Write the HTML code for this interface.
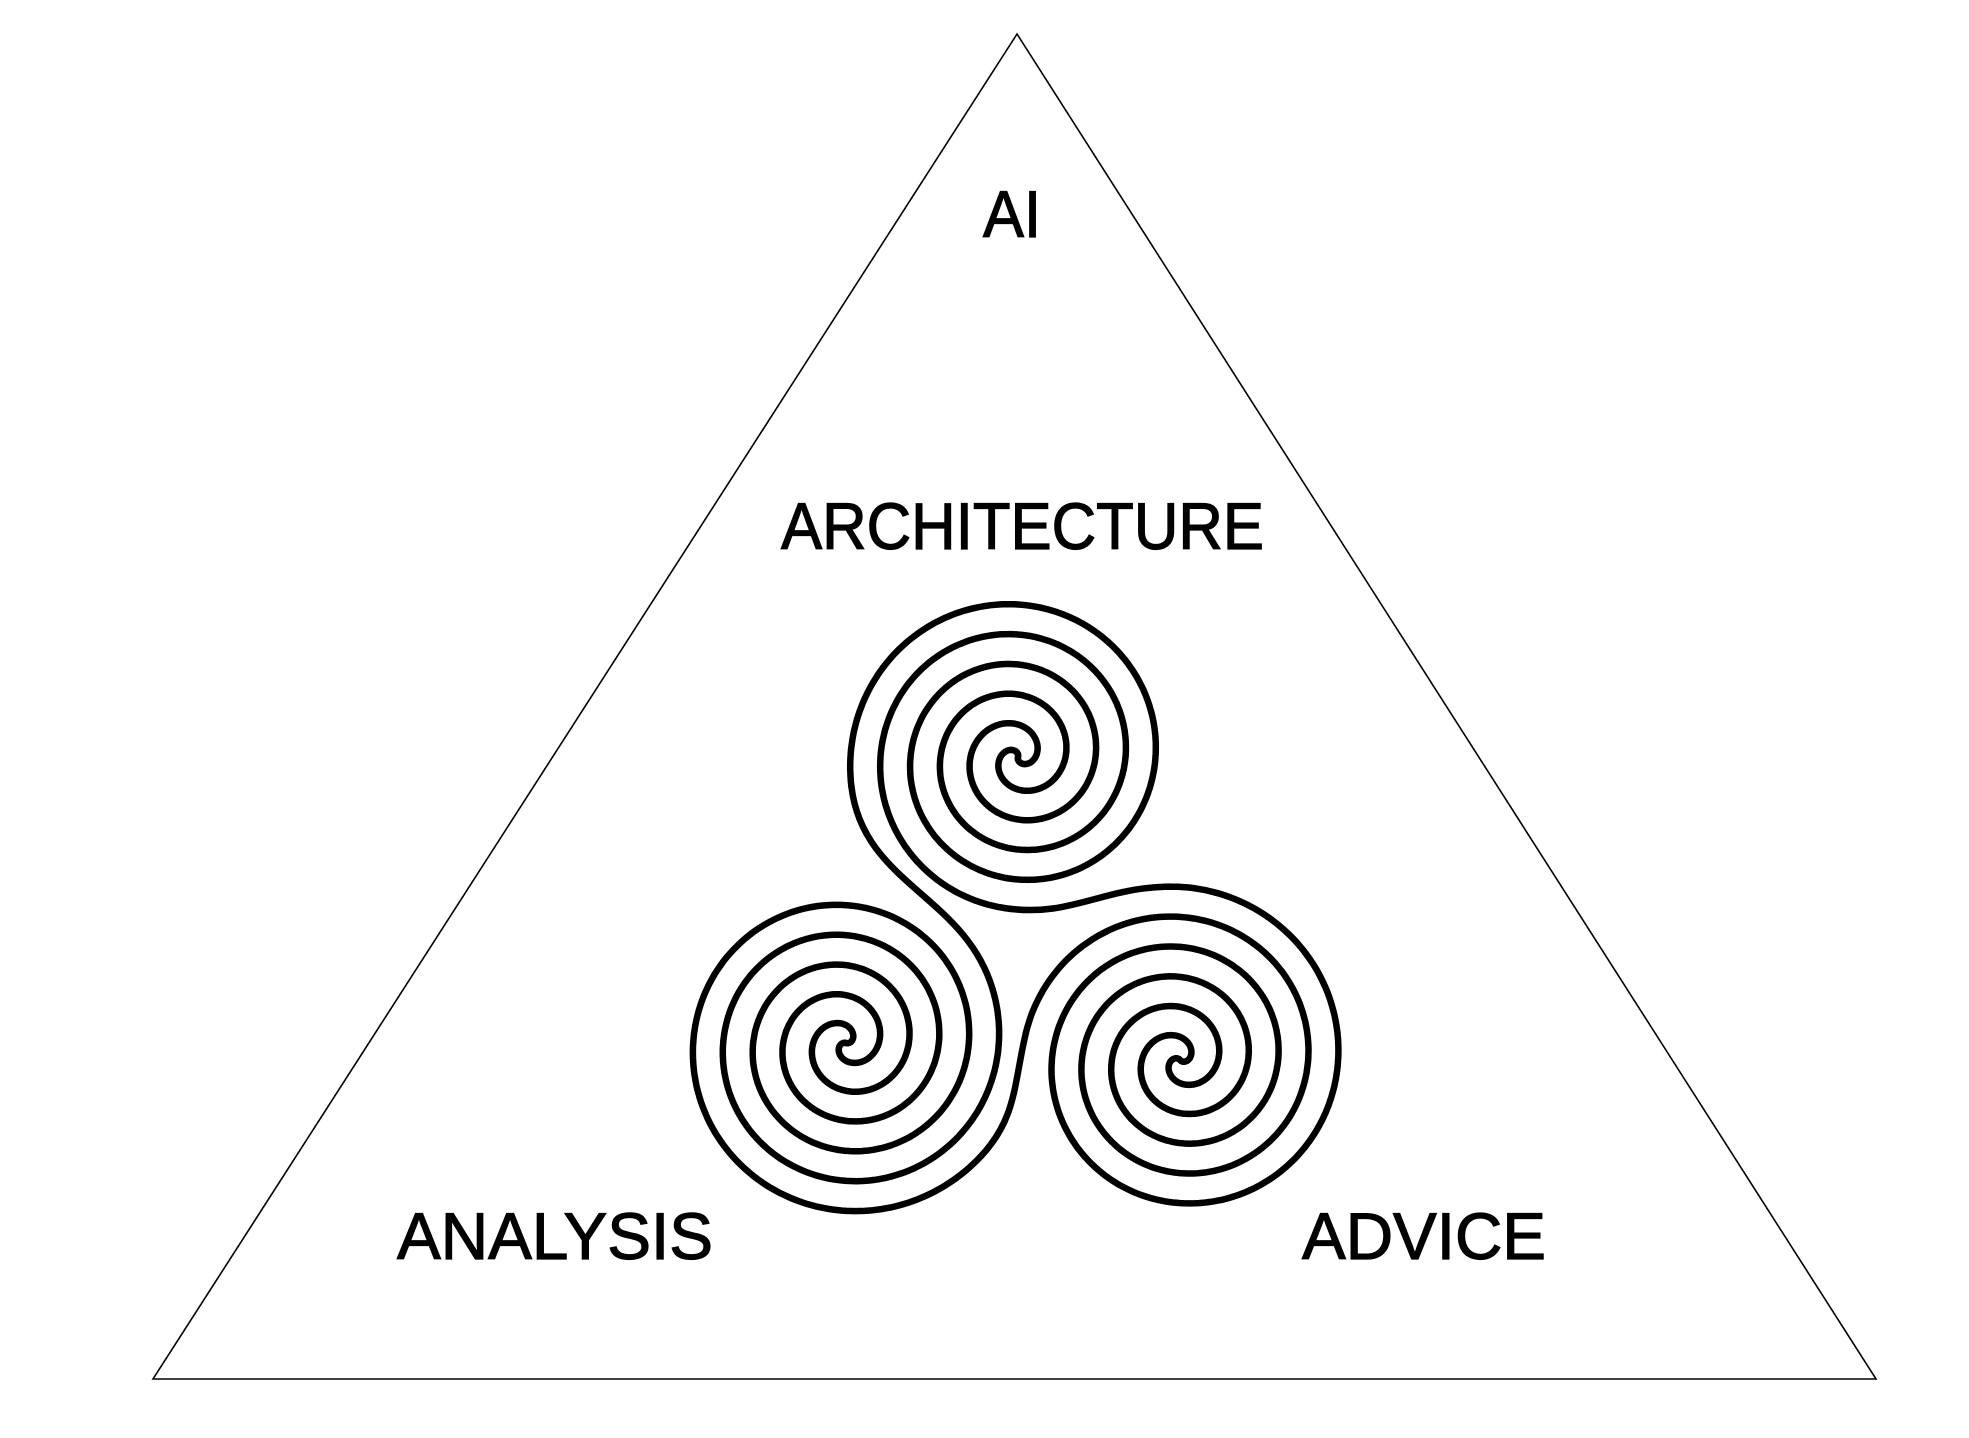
<!DOCTYPE html>
<html><head><meta charset="utf-8"><style>html,body{margin:0;padding:0;background:#fff;}svg{display:block}</style></head>
<body>
<svg id="s" width="1969" height="1438" viewBox="0 0 1969 1438" xmlns="http://www.w3.org/2000/svg">
<rect width="1969" height="1438" fill="#fff"/>
<polygon points="1017,34 153,1379 1876,1379" fill="none" stroke="#000" stroke-width="1.6"/>
<g font-family="'Liberation Sans', sans-serif" font-size="66" fill="#000" stroke="#000" stroke-width="1.2">
<text x="983" y="237" textLength="58" lengthAdjust="spacingAndGlyphs">AI</text>
<text x="781" y="549" textLength="483" lengthAdjust="spacingAndGlyphs">ARCHITECTURE</text>
<text x="397" y="1259" textLength="316" lengthAdjust="spacingAndGlyphs">ANALYSIS</text>
<text x="1302" y="1259" textLength="244" lengthAdjust="spacingAndGlyphs">ADVICE</text>
</g>
<g id="sp" fill="none" stroke="#000" stroke-width="6.5" stroke-linecap="round"></g>
</svg>
<script>
(function(){
var b=60/(2*Math.PI),D=Math.PI/180;
function wrap(x){while(x>Math.PI)x-=2*Math.PI;while(x<=-Math.PI)x+=2*Math.PI;return x;}
function spiral(cx,cy,a1,a2,T){
 a1*=D;a2*=D;var d=wrap(a2-a1-Math.PI);var t1=T+d/2,t2=T-d/2,beta=a1+t1;
 function pt(base,t){var r=b*t,a=base-t;return [cx+r*Math.cos(a),cy+r*Math.sin(a)];}
 function tan(base,t){var a=base-t;var x=Math.cos(a)+t*Math.sin(a),y=Math.sin(a)-t*Math.cos(a);var l=Math.hypot(x,y);return [x/l,y/l];}
 var pts=[],N=700,i;
 for(i=N;i>=0;i--)pts.push(pt(beta,t1*i/N));
 for(i=1;i<=N;i++)pts.push(pt(beta+Math.PI,t2*i/N));
 return {d:"M"+pts.map(function(p){return p[0].toFixed(1)+","+p[1].toFixed(1)}).join("L"),
  e1:pt(beta,t1),d1:tan(beta,t1),e2:pt(beta+Math.PI,t2),d2:tan(beta+Math.PI,t2)};
}
function conn(p,dp,q,dq,k){var L=Math.hypot(q[0]-p[0],q[1]-p[1])*k;
 return "M"+p[0]+","+p[1]+"C"+(p[0]+dp[0]*L)+","+(p[1]+dp[1]*L)+" "+(q[0]+dq[0]*L)+","+(q[1]+dq[1]*L)+" "+q[0]+","+q[1];}
var top=spiral(1018,757,170,95,16.8);
var rt=spiral(1180,1060,265,190,17.3);
var lf=spiral(846,1043,40,340,17.4);
var g=document.getElementById("sp"),h="";
h+='<path d="'+top.d+'"/><path d="'+rt.d+'"/><path d="'+lf.d+'"/>';
h+='<path d="'+conn(top.e1,top.d1,lf.e2,lf.d2,0.4)+'"/>';
h+='<path d="'+conn(top.e2,top.d2,rt.e1,rt.d1,0.4)+'"/>';
h+='<path d="'+conn(lf.e1,lf.d1,rt.e2,rt.d2,0.4)+'"/>';
g.innerHTML=h;
})();
</script>
</body></html>
